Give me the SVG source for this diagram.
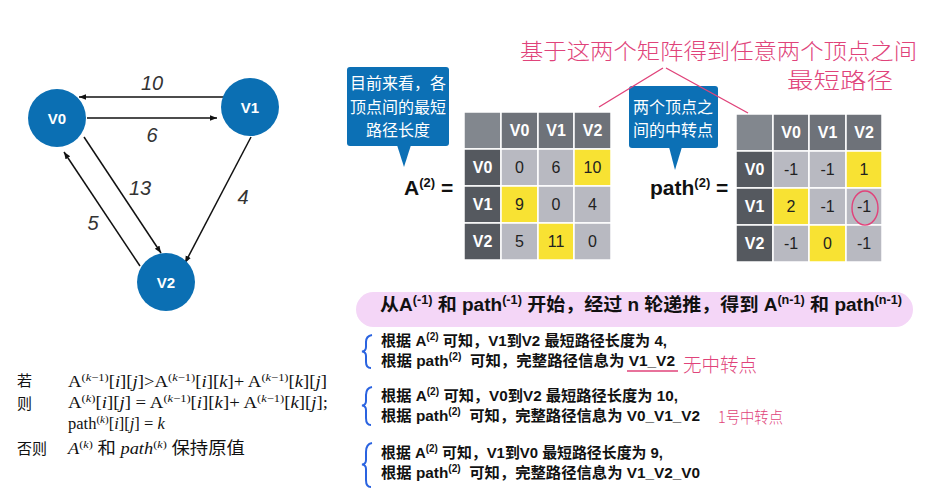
<svg xmlns="http://www.w3.org/2000/svg" width="936" height="500" viewBox="0 0 936 500">
<style>
.sans{font-family:"Liberation Sans","Noto Sans CJK SC",sans-serif}
.node{fill:#0b6fb3}
.ntxt{font-family:"Liberation Sans",sans-serif;font-weight:bold;font-size:15px;fill:#fff}
.edge{stroke:#111;stroke-width:1.5;fill:none}
.wt{font-family:"Liberation Sans",sans-serif;font-style:italic;font-size:20px;fill:#333}
.call{fill:#0c70b5}
.ctxt{font-family:"Noto Sans CJK SC",sans-serif;font-size:16px;fill:#fff}
.cg{fill:#b8b9c1;stroke:#fff;stroke-width:1.5}
.cy{fill:#f8e233;stroke:#fff;stroke-width:1.5}
.ch{fill:#6e7279;stroke:#fff;stroke-width:1.5}
.cr{fill:#55595f;stroke:#fff;stroke-width:1.5}
.cc{fill:#82878e;stroke:#fff;stroke-width:1.5}
.ht{font-family:"Liberation Sans",sans-serif;font-weight:bold;font-size:16px;fill:#fff}
.vt{font-family:"Liberation Sans",sans-serif;font-size:16px;fill:#222}
.eq{font-family:"Liberation Sans",sans-serif;font-weight:bold;font-size:21px;fill:#111}
.pk{stroke:#e0437a;stroke-width:1.4;fill:none}
.hw{font-family:"Noto Sans CJK SC",sans-serif;font-weight:300;fill:#e0437a}
.ln{font-family:"Liberation Sans","Noto Sans CJK SC",sans-serif;font-weight:bold;font-size:15px;fill:#111}
.br{stroke:#2a63e0;stroke-width:2;fill:none}
.fm{font-family:"Liberation Serif","Noto Sans CJK SC",serif;font-size:16.5px;fill:#111}
.fc{font-family:"Noto Sans CJK SC",sans-serif;font-size:15px;fill:#111}
</style>
<defs>
<marker id="ah" viewBox="0 0 10 10" refX="10" refY="5" markerWidth="7" markerHeight="7" orient="auto" markerUnits="userSpaceOnUse">
<path d="M0,1 L10,5 L0,9 z" fill="#111"/>
</marker>
</defs>

<g id="connectors">
<line class="edge" x1="226" y1="97" x2="79" y2="97" marker-end="url(#ah)"/>
<line class="edge" x1="87" y1="118" x2="217" y2="118" marker-end="url(#ah)"/>
<line class="edge" x1="84" y1="137" x2="161" y2="253" marker-end="url(#ah)"/>
<line class="edge" x1="140" y1="266" x2="64" y2="152" marker-end="url(#ah)"/>
<line class="edge" x1="251" y1="137" x2="185" y2="263" marker-end="url(#ah)"/>
<text class="wt" x="152" y="90" text-anchor="middle">10</text>
<text class="wt" x="152" y="142" text-anchor="middle">6</text>
<text class="wt" x="140" y="195" text-anchor="middle">13</text>
<text class="wt" x="93" y="230" text-anchor="middle">5</text>
<text class="wt" x="243" y="204" text-anchor="middle">4</text>
</g>

<g id="V0"><circle class="node" cx="57" cy="118" r="29"/><text class="ntxt" x="57" y="123.5" text-anchor="middle">V0</text></g>
<g id="V1"><circle class="node" cx="250" cy="107" r="29"/><text class="ntxt" x="250" y="112.5" text-anchor="middle">V1</text></g>
<g id="V2"><circle class="node" cx="166" cy="282" r="29"/><text class="ntxt" x="166" y="287.5" text-anchor="middle">V2</text></g>

<g id="callout-A">
<rect class="call" x="347" y="67" width="102" height="79" rx="3"/>
<path class="call" d="M397,145 L411,145 L404,167 z"/>
<text class="ctxt" x="398" y="89" text-anchor="middle">目前来看，各</text>
<text class="ctxt" x="398" y="113" text-anchor="middle">顶点间的最短</text>
<text class="ctxt" x="398" y="136" text-anchor="middle">路径长度</text>
</g>

<g id="callout-path">
<rect class="call" x="629" y="86" width="89" height="62" rx="3"/>
<path class="call" d="M669,147 L682,147 L675,170 z"/>
<text class="ctxt" x="673" y="113" text-anchor="middle">两个顶点之</text>
<text class="ctxt" x="673" y="136" text-anchor="middle">间的中转点</text>
</g>

<g id="matrix-A">
<text class="eq" x="404" y="195">A<tspan font-size="13" dy="-8">(2)</tspan><tspan dy="8"> =</tspan></text>
<rect class="cc" x="464" y="112" width="37" height="37"/>
<rect class="ch" x="501" y="112" width="37" height="37"/>
<rect class="ch" x="538" y="112" width="36" height="37"/>
<rect class="ch" x="574" y="112" width="37" height="37"/>
<rect class="cr" x="464" y="149" width="37" height="37"/>
<rect class="cr" x="464" y="186" width="37" height="37"/>
<rect class="cr" x="464" y="223" width="37" height="37"/>
<rect class="cg" x="501" y="149" width="37" height="37"/>
<rect class="cg" x="538" y="149" width="36" height="37"/>
<rect class="cy" x="574" y="149" width="37" height="37"/>
<rect class="cy" x="501" y="186" width="37" height="37"/>
<rect class="cg" x="538" y="186" width="36" height="37"/>
<rect class="cg" x="574" y="186" width="37" height="37"/>
<rect class="cg" x="501" y="223" width="37" height="37"/>
<rect class="cy" x="538" y="223" width="36" height="37"/>
<rect class="cg" x="574" y="223" width="37" height="37"/>
<text class="ht" x="519.5" y="136" text-anchor="middle">V0</text>
<text class="ht" x="556" y="136" text-anchor="middle">V1</text>
<text class="ht" x="592.5" y="136" text-anchor="middle">V2</text>
<text class="ht" x="482.5" y="173" text-anchor="middle">V0</text>
<text class="ht" x="482.5" y="210" text-anchor="middle">V1</text>
<text class="ht" x="482.5" y="247" text-anchor="middle">V2</text>
<text class="vt" x="519.5" y="173" text-anchor="middle">0</text>
<text class="vt" x="556" y="173" text-anchor="middle">6</text>
<text class="vt" x="592.5" y="173" text-anchor="middle">10</text>
<text class="vt" x="519.5" y="210" text-anchor="middle">9</text>
<text class="vt" x="556" y="210" text-anchor="middle">0</text>
<text class="vt" x="592.5" y="210" text-anchor="middle">4</text>
<text class="vt" x="519.5" y="247" text-anchor="middle">5</text>
<text class="vt" x="556" y="247" text-anchor="middle">11</text>
<text class="vt" x="592.5" y="247" text-anchor="middle">0</text>
</g>

<g id="matrix-path">
<text class="eq" x="650" y="195">path<tspan font-size="13" dy="-8">(2)</tspan><tspan dy="8"> =</tspan></text>
<rect class="cc" x="736" y="114" width="37" height="37"/>
<rect class="ch" x="773" y="114" width="36" height="37"/>
<rect class="ch" x="809" y="114" width="37" height="37"/>
<rect class="ch" x="846" y="114" width="36" height="37"/>
<rect class="cr" x="736" y="151" width="37" height="37"/>
<rect class="cr" x="736" y="188" width="37" height="37"/>
<rect class="cr" x="736" y="225" width="37" height="37"/>
<rect class="cg" x="773" y="151" width="36" height="37"/>
<rect class="cg" x="809" y="151" width="37" height="37"/>
<rect class="cy" x="846" y="151" width="36" height="37"/>
<rect class="cy" x="773" y="188" width="36" height="37"/>
<rect class="cg" x="809" y="188" width="37" height="37"/>
<rect class="cg" x="846" y="188" width="36" height="37"/>
<rect class="cg" x="773" y="225" width="36" height="37"/>
<rect class="cy" x="809" y="225" width="37" height="37"/>
<rect class="cg" x="846" y="225" width="36" height="37"/>
<text class="ht" x="791" y="138" text-anchor="middle">V0</text>
<text class="ht" x="827.5" y="138" text-anchor="middle">V1</text>
<text class="ht" x="864" y="138" text-anchor="middle">V2</text>
<text class="ht" x="754.5" y="175" text-anchor="middle">V0</text>
<text class="ht" x="754.5" y="212" text-anchor="middle">V1</text>
<text class="ht" x="754.5" y="249" text-anchor="middle">V2</text>
<text class="vt" x="791" y="175" text-anchor="middle">-1</text>
<text class="vt" x="827.5" y="175" text-anchor="middle">-1</text>
<text class="vt" x="864" y="175" text-anchor="middle">1</text>
<text class="vt" x="791" y="212" text-anchor="middle">2</text>
<text class="vt" x="827.5" y="212" text-anchor="middle">-1</text>
<text class="vt" x="864" y="212" text-anchor="middle">-1</text>
<text class="vt" x="791" y="249" text-anchor="middle">-1</text>
<text class="vt" x="827.5" y="249" text-anchor="middle">0</text>
<text class="vt" x="864" y="249" text-anchor="middle">-1</text>
</g>

<g id="annotations">
<text class="hw" x="520" y="59" font-size="22" textLength="397" lengthAdjust="spacingAndGlyphs">基于这两个矩阵得到任意两个顶点之间</text>
<text class="hw" x="787" y="88" font-size="22" textLength="106" lengthAdjust="spacingAndGlyphs">最短路径</text>
<path class="pk" d="M663,68 L599,107 M666,68 L748,113"/>
<ellipse class="pk" cx="865" cy="208" rx="13" ry="17"/>
<path class="pk" d="M627,371 L678,371"/>
<text class="hw" x="683" y="372" font-size="19" textLength="74" lengthAdjust="spacingAndGlyphs">无中转点</text>
<text class="hw" x="718" y="423" font-size="16" textLength="65" lengthAdjust="spacingAndGlyphs">1号中转点</text>
</g>

<g id="summary">
<rect x="356" y="292" width="557" height="35" rx="17.5" fill="#f4d6f7"/>
<text class="sans" x="380" y="311" font-size="18" font-weight="bold" fill="#111" textLength="522" lengthAdjust="spacingAndGlyphs">从A<tspan font-size="12" dy="-7">(-1)</tspan><tspan dy="7"> 和 path</tspan><tspan font-size="12" dy="-7">(-1)</tspan><tspan dy="7"> 开始，经过 n 轮递推，得到 A</tspan><tspan font-size="12" dy="-7">(n-1)</tspan><tspan dy="7"> 和 path</tspan><tspan font-size="12" dy="-7">(n-1)</tspan></text>
</g>

<g id="results">
<path class="br" d="M372,335 Q366,336 366,342 L366,347 Q366,351 362,351.5 Q366,352 366,356 L366,362 Q366,368 371,368"/>
<path class="br" d="M372,387 Q366,388 366,395 L366,401 Q366,405 362,405.5 Q366,406 366,410 L366,418 Q366,425 371,425"/>
<path class="br" d="M372,443 Q366,444 366,452 L366,460 Q366,464 362,464.5 Q366,465 366,469 L366,480 Q366,487 371,487"/>
<text class="ln" x="381" y="345.5" textLength="286" lengthAdjust="spacingAndGlyphs">根据 A<tspan font-size="10" dy="-6">(2)</tspan><tspan dy="6"> 可知，V1到V2 最短路径长度为 4,</tspan></text>
<text class="ln" x="381" y="365.5" textLength="294" lengthAdjust="spacingAndGlyphs">根据 path<tspan font-size="10" dy="-6">(2)</tspan><tspan dy="6">&#160; 可知，完整路径信息为 V1_V2</tspan></text>
<text class="ln" x="381" y="400.5" textLength="297" lengthAdjust="spacingAndGlyphs">根据 A<tspan font-size="10" dy="-6">(2)</tspan><tspan dy="6"> 可知，V0到V2 最短路径长度为 10,</tspan></text>
<text class="ln" x="381" y="420.5" textLength="319" lengthAdjust="spacingAndGlyphs">根据 path<tspan font-size="10" dy="-6">(2)</tspan><tspan dy="6">&#160; 可知，完整路径信息为 V0_V1_V2</tspan></text>
<text class="ln" x="381" y="457.5" textLength="282" lengthAdjust="spacingAndGlyphs">根据 A<tspan font-size="10" dy="-6">(2)</tspan><tspan dy="6"> 可知，V1到V0 最短路径长度为 9,</tspan></text>
<text class="ln" x="381" y="477.5" textLength="319" lengthAdjust="spacingAndGlyphs">根据 path<tspan font-size="10" dy="-6">(2)</tspan><tspan dy="6">&#160; 可知，完整路径信息为 V1_V2_V0</tspan></text>
</g>

<g id="formula">
<text class="fc" x="17" y="386" font-size="14">若</text>
<text class="fc" x="17" y="409" font-size="14">则</text>
<text class="fc" x="17" y="454" font-size="15">否则</text>
<text class="fm" x="68" y="387" textLength="259" lengthAdjust="spacingAndGlyphs">A<tspan font-size="11" dy="-6">(<tspan font-style="italic">k</tspan>−1)</tspan><tspan dy="6">[<tspan font-style="italic">i</tspan>][<tspan font-style="italic">j</tspan>]&gt;A</tspan><tspan font-size="11" dy="-6">(<tspan font-style="italic">k</tspan>−1)</tspan><tspan dy="6">[<tspan font-style="italic">i</tspan>][<tspan font-style="italic">k</tspan>]+ A</tspan><tspan font-size="11" dy="-6">(<tspan font-style="italic">k</tspan>−1)</tspan><tspan dy="6">[<tspan font-style="italic">k</tspan>][<tspan font-style="italic">j</tspan>]</tspan></text>
<text class="fm" x="68" y="408" textLength="260" lengthAdjust="spacingAndGlyphs">A<tspan font-size="11" dy="-6">(<tspan font-style="italic">k</tspan>)</tspan><tspan dy="6">[<tspan font-style="italic">i</tspan>][<tspan font-style="italic">j</tspan>] = A</tspan><tspan font-size="11" dy="-6">(<tspan font-style="italic">k</tspan>−1)</tspan><tspan dy="6">[<tspan font-style="italic">i</tspan>][<tspan font-style="italic">k</tspan>]+ A</tspan><tspan font-size="11" dy="-6">(<tspan font-style="italic">k</tspan>−1)</tspan><tspan dy="6">[<tspan font-style="italic">k</tspan>][<tspan font-style="italic">j</tspan>];</tspan></text>
<text class="fm" x="68" y="429">path<tspan font-size="11" dy="-6">(<tspan font-style="italic">k</tspan>)</tspan><tspan dy="6">[<tspan font-style="italic">i</tspan>][<tspan font-style="italic">j</tspan>] = <tspan font-style="italic">k</tspan></tspan></text>
<text class="fm" x="68" y="454" textLength="177" lengthAdjust="spacingAndGlyphs"><tspan font-style="italic">A</tspan><tspan font-size="11" dy="-6">(<tspan font-style="italic">k</tspan>)</tspan><tspan dy="6"> 和 <tspan font-style="italic">path</tspan></tspan><tspan font-size="11" dy="-6">(<tspan font-style="italic">k</tspan>)</tspan><tspan dy="6"> 保持原值</tspan></text>
</g>
</svg>
